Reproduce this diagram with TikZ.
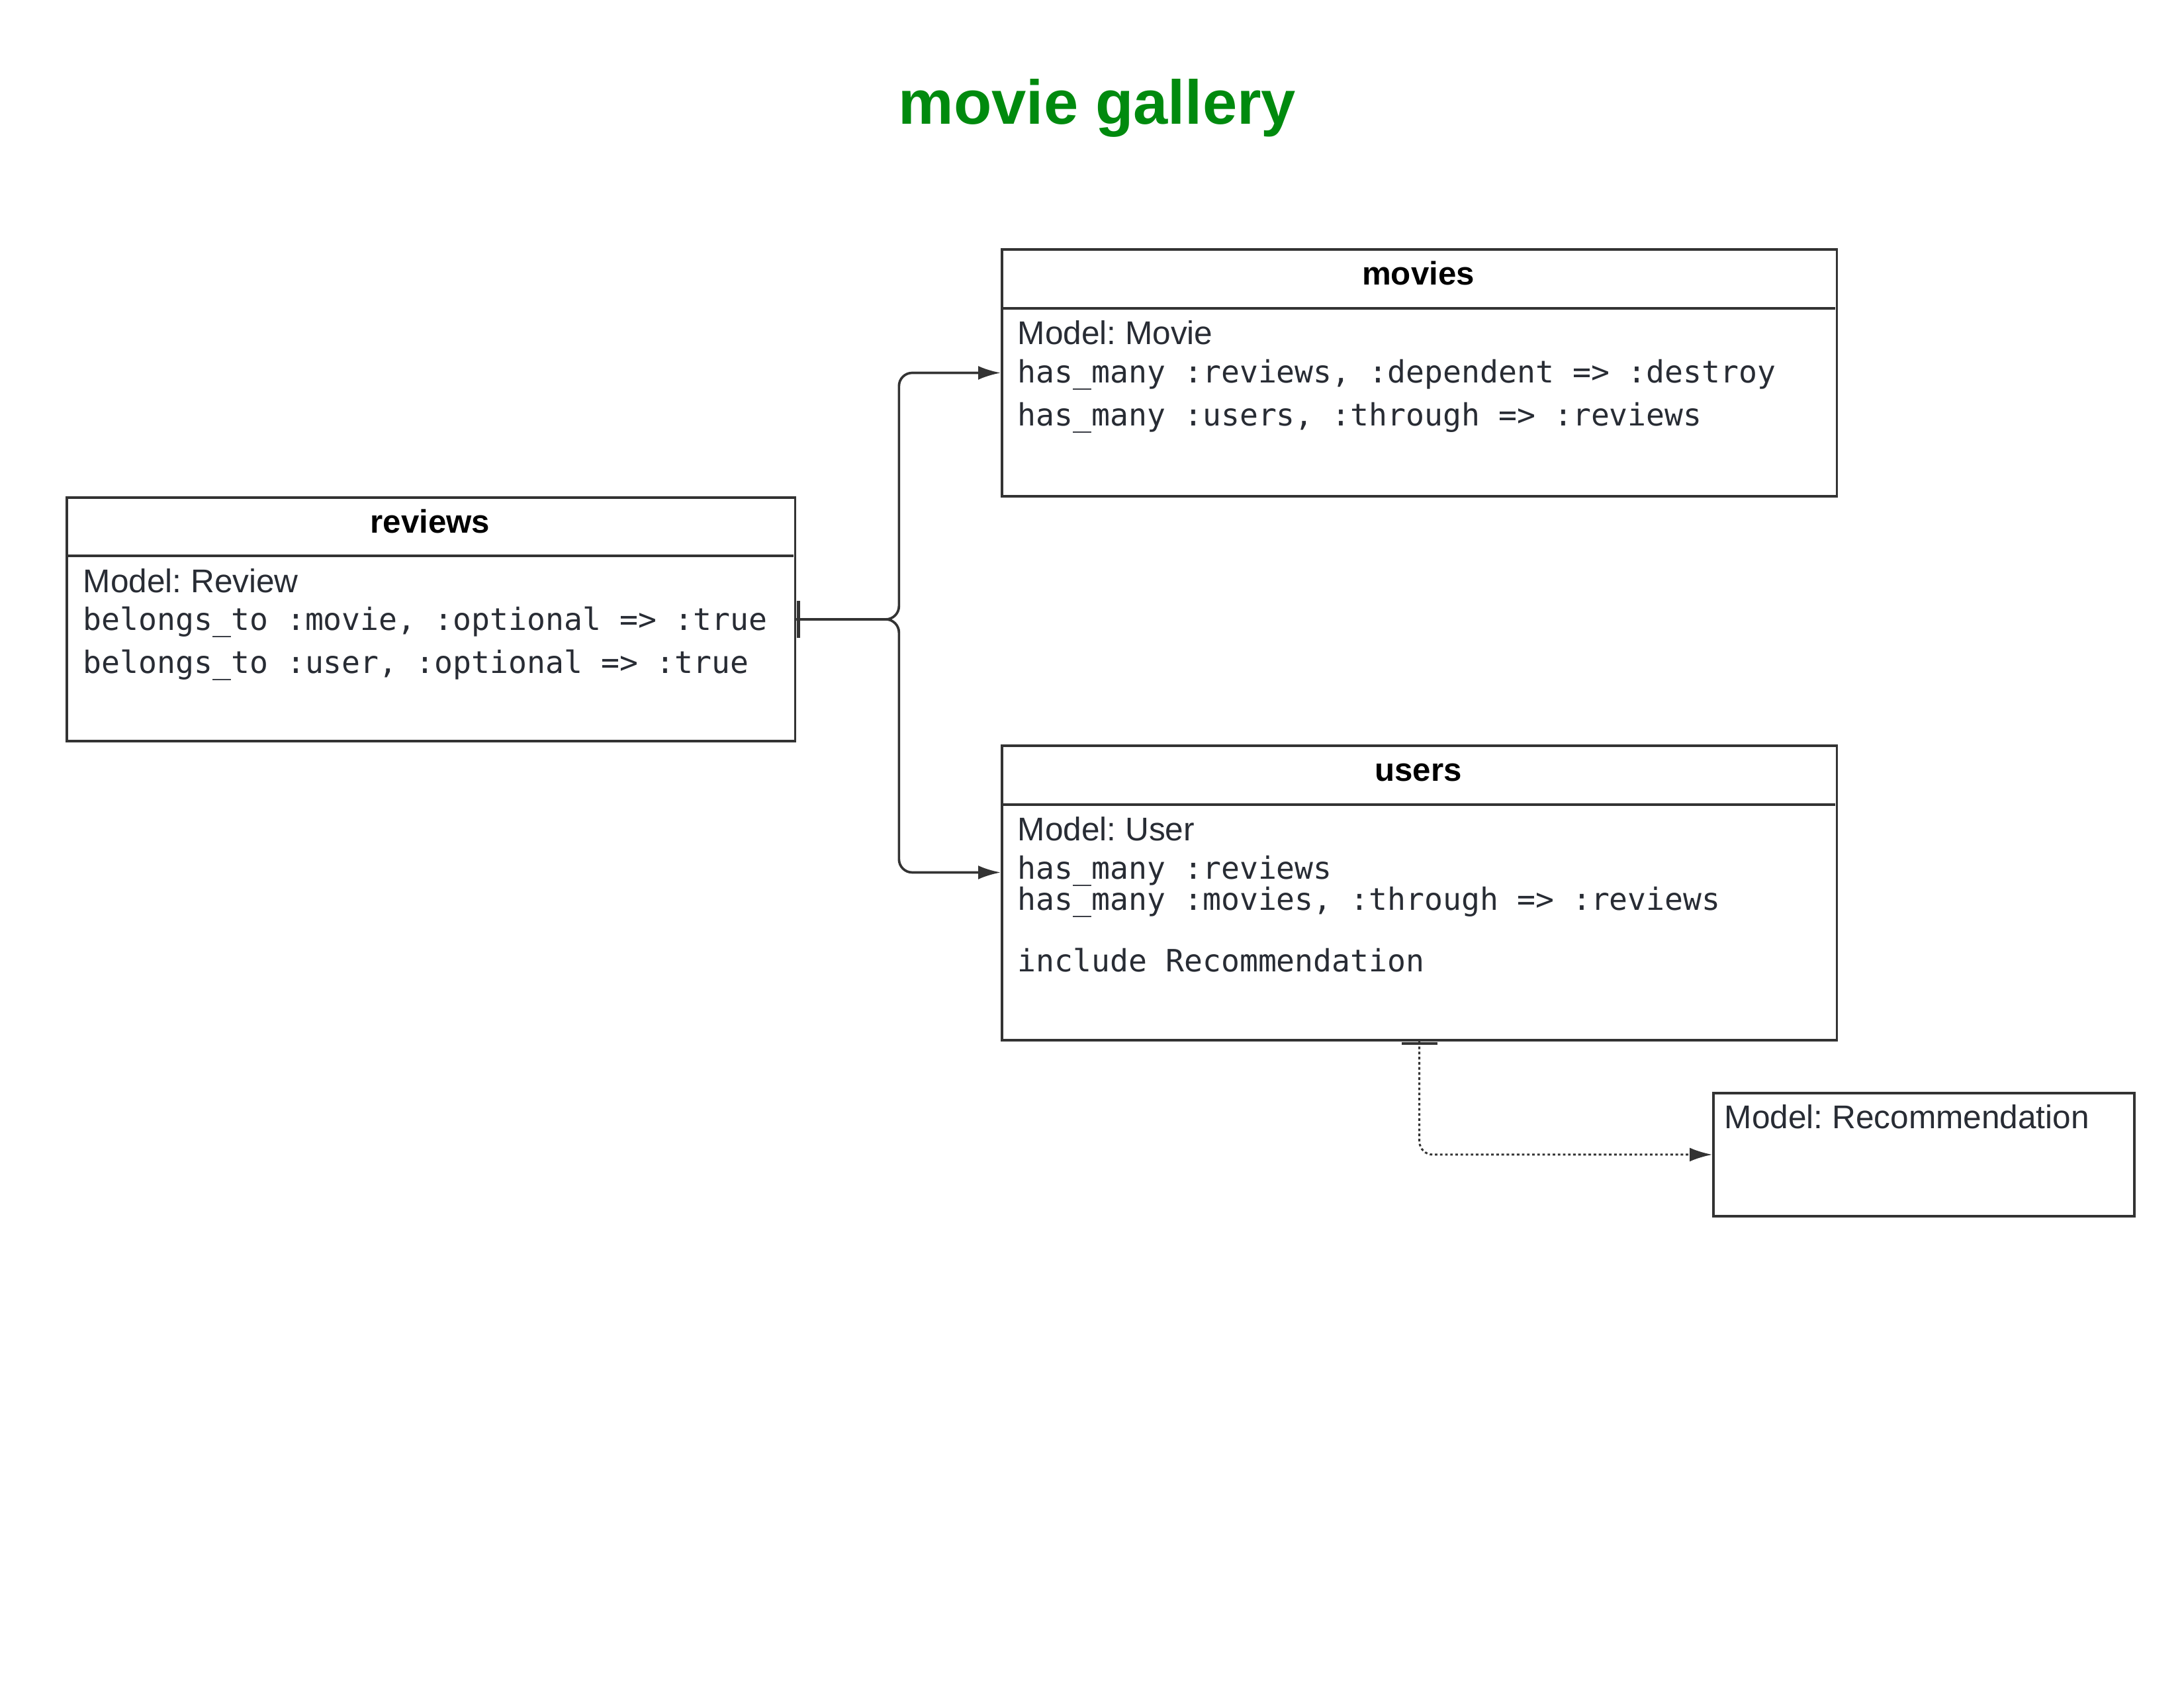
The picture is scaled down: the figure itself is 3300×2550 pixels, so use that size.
\documentclass[tikz,border=0pt]{standalone}
\usepackage{fontspec}
\setmainfont{Liberation Sans}
\newfontfamily\codefont{DejaVu Sans Mono}
\usetikzlibrary{arrows.meta,calc}
\frenchspacing
\definecolor{linegray}{HTML}{333333}
\definecolor{textgray}{HTML}{282C34}
\definecolor{titlegreen}{RGB}{0,138,14}
\tikzset{
  box/.style={draw=linegray, line width=1.05pt, fill=none, inner sep=0, anchor=north west},
  sep/.style={draw=linegray, line width=1.05pt},
  hdr/.style={anchor=base, inner sep=0, font=\fontsize{14}{17}\selectfont\bfseries, text=black},
  modeltxt/.style={anchor=base west, inner sep=0, font=\fontsize{14.1}{17}\selectfont, text=textgray},
  codetxt/.style={anchor=base west, inner sep=0, font=\codefont\fontsize{13.2}{16}\selectfont, text=textgray},
  conn/.style={draw=linegray, line width=1.05pt, rounded corners=0.2cm, -{Latex[length=0.34cm,width=0.21cm]}},
  dotconn/.style={draw=linegray, line width=0.85pt, dash pattern=on 1.1pt off 1.1pt, rounded corners=0.2cm, -{Latex[length=0.34cm,width=0.21cm]}},
  onebar/.style={draw=linegray, line width=1.4pt},
}
\begin{document}
\begin{tikzpicture}[x=0.01cm,y=-0.01cm]
\useasboundingbox (0,0) rectangle (3300,2550);

% title
\node[anchor=base, inner sep=0, font=\fontsize{26.7}{32}\selectfont\bfseries, text=titlegreen] (title) at (1658,187) {movie gallery};

% reviews
\node[box, minimum width=11.00cm, minimum height=3.68cm] (reviews) at (99,750) {};
\draw[sep] (99,840) -- (1199,840);
\node[hdr] (reviewsh) at (650,805) {reviews};
\node[modeltxt] (reviews1) at (125,895) {Model: Review};
\node[codetxt] (reviews2) at (125,952) {belongs\_to :movie, :optional => :true};
\node[codetxt] (reviews3) at (125,1017) {belongs\_to :user, :optional => :true};

% movies
\node[box, minimum width=12.61cm, minimum height=3.73cm] (movies) at (1512,375) {};
\draw[sep] (1512,466) -- (2773,466);
\node[hdr] (moviesh) at (2143,430) {movies};
\node[modeltxt] (movies1) at (1537,520) {Model: Movie};
\node[codetxt] (movies2) at (1537,578) {has\_many :reviews, :dependent => :destroy};
\node[codetxt] (movies3) at (1537,643) {has\_many :users, :through => :reviews};

% users
\node[box, minimum width=12.61cm, minimum height=4.45cm] (users) at (1512,1125) {};
\draw[sep] (1512,1216) -- (2773,1216);
\node[hdr] (usersh) at (2143,1180) {users};
\node[modeltxt] (users1) at (1537,1270) {Model: User};
\node[codetxt] (users2) at (1537,1328) {has\_many :reviews};
\node[codetxt] (users3) at (1537,1375) {has\_many :movies, :through => :reviews};
\node[codetxt] (users4) at (1537,1468) {include Recommendation};

% recommendation
\node[box, minimum width=6.36cm, minimum height=1.86cm] (rec) at (2587,1650) {};
\node[modeltxt] (rec1) at (2605,1705) {Model: Recommendation};

% connectors
\coordinate (split) at ($(reviews.east)+(155,0)$);
\path[conn] (reviews.east) -- (split) |- (movies.west);
\path[conn] (reviews.east) -- (split) |- ([yshift=0.31cm]users.west);
\draw[onebar] ($(reviews.east)+(3,-28)$) -- ($(reviews.east)+(3,28)$);

\path[dotconn] (users.south) |- (rec.west);
\draw[onebar] ($(users.south)+(-27,3)$) -- ($(users.south)+(27,3)$);
\end{tikzpicture}
\end{document}
